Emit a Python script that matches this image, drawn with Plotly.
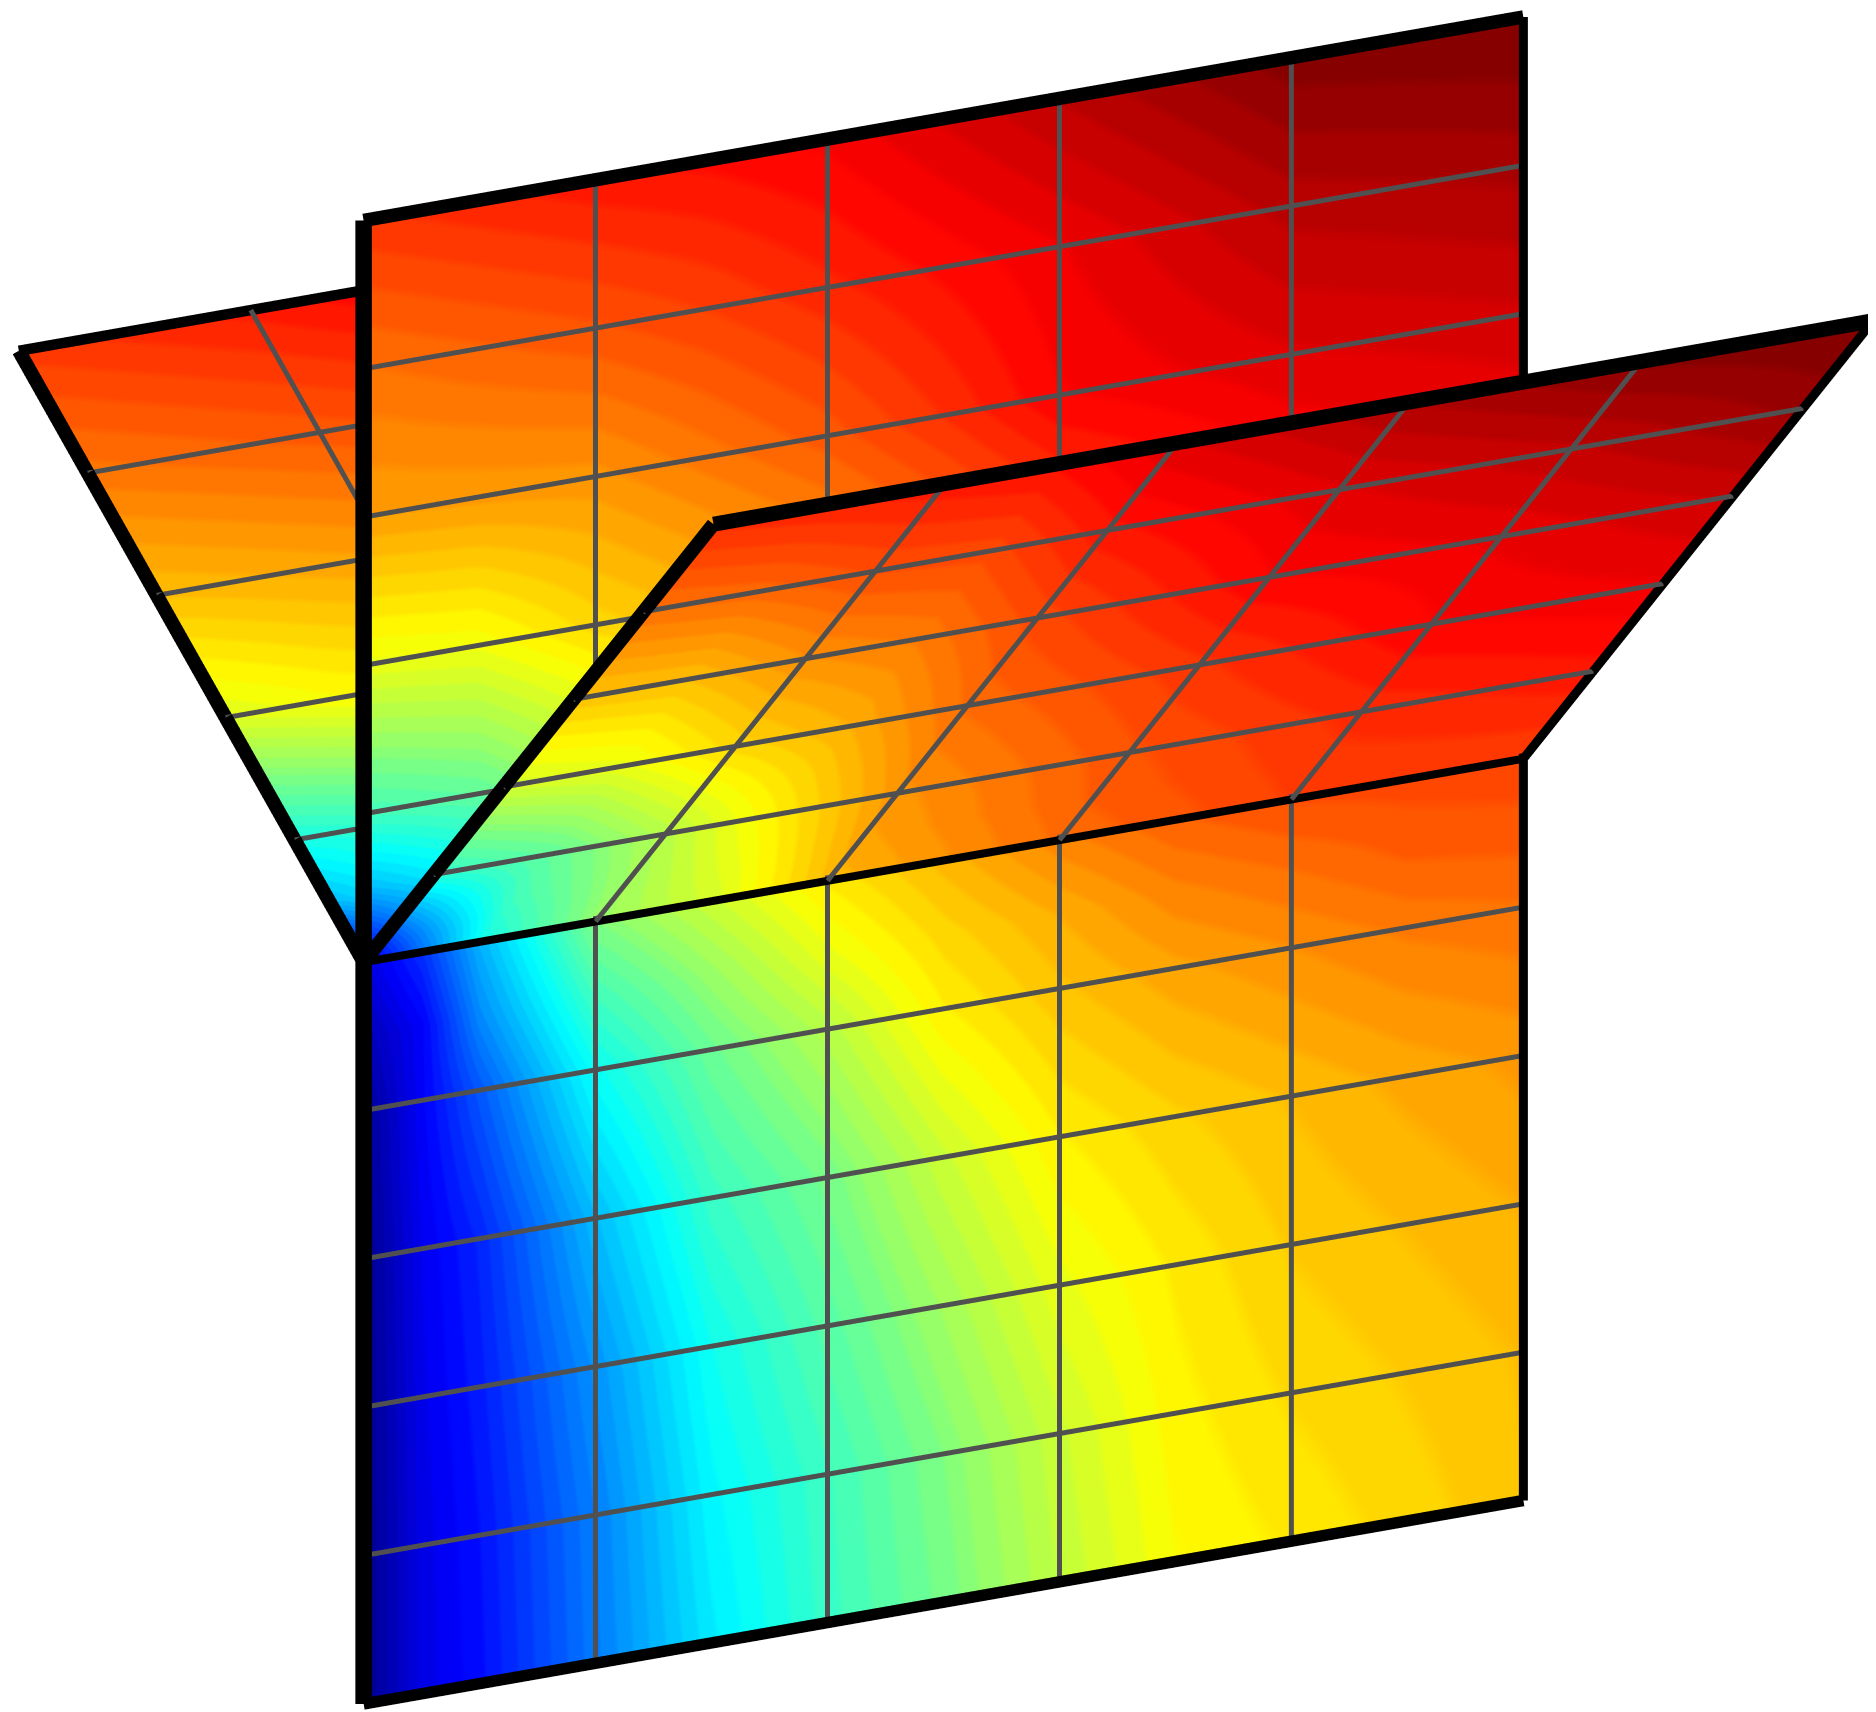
import numpy as np
import plotly.graph_objects as go

# panel nodes: s along the long edge, q away from the junction line
grid_ticks = [0.2, 0.4, 0.6, 0.8]

front_s = [0, 0.05, 0.1, 0.2, 0.3, 0.4, 0.5, 0.6, 0.7, 0.8, 0.9, 1.0]
front_q = [0, 0.1, 0.2, 0.4, 0.6, 0.8, 1.0]
front_values = [
    [0.09, 0.17, 0.30, 0.50, 0.57, 0.64, 0.69, 0.74, 0.775, 0.795, 0.80, 0.805],
    [0.05, 0.12, 0.26, 0.44, 0.52, 0.60, 0.66, 0.70, 0.74, 0.76, 0.78, 0.785],
    [0.02, 0.12, 0.21, 0.385, 0.48, 0.55, 0.635, 0.68, 0.71, 0.73, 0.75, 0.76],
    [0.01, 0.11, 0.16, 0.31, 0.43, 0.49, 0.57, 0.635, 0.665, 0.685, 0.705, 0.72],
    [0.01, 0.105, 0.15, 0.27, 0.39, 0.46, 0.53, 0.60, 0.64, 0.67, 0.685, 0.70],
    [0.01, 0.10, 0.14, 0.25, 0.37, 0.435, 0.50, 0.57, 0.63, 0.655, 0.67, 0.685],
    [0.01, 0.10, 0.135, 0.245, 0.355, 0.43, 0.49, 0.56, 0.62, 0.64, 0.66, 0.68],
]

back_s = [0, 0.1, 0.2, 0.3, 0.4, 0.5, 0.6, 0.8, 1.0]
back_q = [0, 0.1, 0.2, 0.4, 0.6, 0.8, 1.0]
back_values = [
    [0.09, 0.33, 0.50, 0.57, 0.65, 0.68, 0.72, 0.78, 0.81],
    [0.31, 0.38, 0.50, 0.58, 0.65, 0.69, 0.73, 0.79, 0.83],
    [0.44, 0.47, 0.54, 0.60, 0.66, 0.70, 0.75, 0.81, 0.85],
    [0.60, 0.61, 0.66, 0.69, 0.72, 0.76, 0.80, 0.86, 0.88],
    [0.715, 0.72, 0.725, 0.755, 0.785, 0.825, 0.87, 0.90, 0.915],
    [0.76, 0.775, 0.79, 0.81, 0.835, 0.86, 0.885, 0.94, 0.955],
    [0.82, 0.835, 0.85, 0.86, 0.875, 0.905, 0.935, 0.99, 1.00],
]

left_s = [0, 0.1, 0.2, 0.3, 0.6, 1.0]
left_q = [0, 0.1, 0.2, 0.4, 0.6, 0.8, 1.0]
left_values = [
    [0.09, 0.33, 0.50, 0.57, 0.72, 0.81],
    [0.31, 0.40, 0.47, 0.55, 0.72, 0.82],
    [0.40, 0.43, 0.50, 0.58, 0.74, 0.84],
    [0.59, 0.62, 0.64, 0.68, 0.80, 0.88],
    [0.685, 0.70, 0.715, 0.73, 0.86, 0.92],
    [0.755, 0.77, 0.785, 0.80, 0.89, 0.96],
    [0.815, 0.83, 0.845, 0.865, 0.93, 1.00],
]

right_s = [0, 0.1, 0.2, 0.3, 0.4, 0.6, 0.8, 1.0]
right_q = [0, 0.1, 0.2, 0.4, 0.6, 0.8, 1.0]
right_values = [
    [0.09, 0.39, 0.52, 0.58, 0.69, 0.765, 0.81, 0.81],
    [0.26, 0.44, 0.53, 0.61, 0.71, 0.78, 0.82, 0.83],
    [0.42, 0.47, 0.55, 0.64, 0.725, 0.79, 0.83, 0.85],
    [0.58, 0.60, 0.66, 0.70, 0.765, 0.82, 0.87, 0.885],
    [0.68, 0.685, 0.73, 0.75, 0.80, 0.87, 0.89, 0.92],
    [0.76, 0.77, 0.795, 0.80, 0.85, 0.90, 0.93, 0.97],
    [0.83, 0.84, 0.85, 0.86, 0.90, 0.95, 0.985, 1.00],
]

# the view looks along y, so x and z read as page pixels and y is depth only
origin = (357, 758)
edge_s = (1157, 203)
panel_edges = {
    "front": (0, -740, 0),
    "back": (0, 740, 0),
    "left": (-344, 610, 200),
    "right": (349, 437, -200),
}
line_lift = 3
view_zoom = 1.171


def jet(v):
    r = np.clip(min(4 * v - 1.5, 4.5 - 4 * v), 0, 1)
    g = np.clip(min(4 * v - 0.5, 3.5 - 4 * v), 0, 1)
    b = np.clip(min(4 * v + 0.5, 2.5 - 4 * v), 0, 1)
    return f"rgb({int(r*255)},{int(g*255)},{int(b*255)})"


n_levels = 64
jet_bands = []
for i in range(n_levels):
    c = jet((i + 0.5) / n_levels)
    jet_bands += [[i / n_levels, c], [(i + 1) / n_levels, c]]

fig = go.Figure()


def panel_xyz(s, q, name):
    s, q = np.asarray(s, float), np.asarray(q, float)
    ex, ez, ey = panel_edges[name]
    x = origin[0] + s * edge_s[0] + q * ex
    z = origin[1] + s * edge_s[1] + q * ez
    return x, q * ey, z


def add_panel(name, s_nodes, q_nodes, values):
    ss, qq = np.meshgrid(s_nodes, q_nodes)
    x, y, z = panel_xyz(ss, qq, name)
    fig.add_trace(go.Surface(
        x=x, y=y, z=z, surfacecolor=values, cmin=0, cmax=1,
        colorscale=jet_bands, showscale=False, hoverinfo="skip",
        lighting=dict(ambient=1, diffuse=0, specular=0, fresnel=0, roughness=1),
    ))


def add_line(name, s, q, color, width):
    x, y, z = panel_xyz(s, q, name)
    fig.add_trace(go.Scatter3d(
        x=x, y=y - line_lift, z=z, mode="lines", hoverinfo="skip", showlegend=False,
        line=dict(color=color, width=width),
    ))


def add_grid(name):
    for t in grid_ticks:
        add_line(name, [t, t], [0, 1], "#505050", 10)
        add_line(name, [0, 1], [t, t], "#505050", 10)


add_panel("front", front_s, front_q, front_values)
add_panel("back", back_s, back_q, back_values)
add_panel("left", left_s, left_q, left_values)
add_panel("right", right_s, right_q, right_values)
for panel in ["front", "back", "left", "right"]:
    add_grid(panel)

# black outlines, widths differ edge to edge in the original
add_line("front", [0, 0], [0, 1], "black", 33)
add_line("front", [0, 1], [1, 1], "black", 23)
add_line("front", [1, 1], [0, 1], "black", 18)
add_line("front", [0, 1], [0, 0], "black", 16)
add_line("back", [0, 0], [0, 1], "black", 33)
add_line("back", [0, 1], [1, 1], "black", 27)
add_line("back", [1, 1], [0, 1], "black", 18)
add_line("left", [0, 0], [0, 1], "black", 28)
add_line("left", [0, 1], [1, 1], "black", 21)
add_line("right", [0, 0], [0, 1], "black", 28)
add_line("right", [0, 1], [1, 1], "black", 30)
add_line("right", [1, 1], [0, 1], "black", 18)

hidden_axis = dict(visible=False, showspikes=False)
fig.update_layout(
    width=1876, height=1712, margin=dict(l=0, r=0, t=0, b=0),
    paper_bgcolor="white", showlegend=False,
    scene=dict(
        domain=dict(x=[0, 1], y=[0, 1]),
        xaxis=dict(range=[0, 1876], **hidden_axis),
        yaxis=dict(range=[-250, 250], **hidden_axis),
        zaxis=dict(range=[0, 1712], **hidden_axis),
        aspectmode="manual",
        aspectratio=dict(x=1.876 * view_zoom, y=0.5 * view_zoom, z=1.712 * view_zoom),
        camera=dict(
            projection=dict(type="orthographic"),
            up=dict(x=0, y=0, z=1),
            center=dict(x=0, y=0, z=0),
            eye=dict(x=0, y=-0.857, z=0),
        ),
    ),
)
fig.write_html("out.html")
